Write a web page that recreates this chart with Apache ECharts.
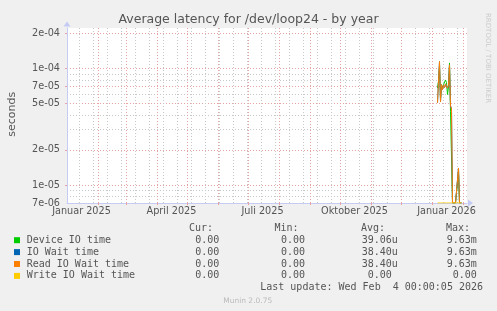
<!DOCTYPE html>
<html><head><meta charset="utf-8">
<script src="https://cdn.jsdelivr.net/npm/echarts@6/dist/echarts.min.js"></script>
<style>html,body{margin:0;padding:0;background:#f0f0f0;}#c{width:497px;height:311px;}</style>
</head><body><div id="c"></div>
<script>
// ---------- data ----------
const dates = ['2026-01-06','2026-01-07','2026-01-08','2026-01-09','2026-01-10','2026-01-11','2026-01-12',
  '2026-01-13','2026-01-14','2026-01-15','2026-01-16','2026-01-17','2026-01-18','2026-01-19','2026-01-20',
  '2026-01-21','2026-01-22','2026-01-23','2026-01-24','2026-01-25','2026-01-26','2026-01-27','2026-01-28',
  '2026-01-29','2026-01-30'];
const deviceIO   = [6.8e-5,7.8e-5,1.05e-4,5.5e-5,7.2e-5,6.8e-5,7.3e-5,7.4e-5,8.0e-5,7.6e-5,6.0e-5,7.0e-5,1.12e-4,4.3e-5,4.4e-5,0,0,0,0,0,0,1.3e-5,0,0,0];
const ioWait     = [5.1e-5,7.8e-5,1.15e-4,5.2e-5,7.3e-5,6.6e-5,7.2e-5,6.9e-5,7.4e-5,7.3e-5,6.8e-5,7.2e-5,1.08e-4,4.8e-5,4.5e-5,0,0,0,0,0,0,1.4e-5,0,0,0];
const readIoWait = [5.1e-5,7.8e-5,1.15e-4,5.2e-5,7.3e-5,6.6e-5,7.2e-5,6.9e-5,7.4e-5,7.3e-5,6.8e-5,7.2e-5,1.08e-4,4.8e-5,4.5e-5,0,0,0,0,0,0,1.4e-5,0,0,0];
const writeIoWait= [0,0,0,0,0,0,0,0,0,0,0,0,0,0,0,0,0,0,0,0,0,0,0,0,0];

const yLabelValues = [7e-6,1e-5,2e-5,5e-5,7e-5,1e-4,2e-4];
const yMajorGrid   = [1e-5,2e-5,5e-5,7e-5,1e-4,2e-4];
const yMinorGrid   = [8e-6,9e-6,3e-5,4e-5,6e-5,8e-5,9e-5];
const xLabelNames  = ['Januar 2025','April 2025','Juli 2025','Oktober 2025','Januar 2026'];
const xLabelDates  = ['2025-01-15','2025-04-15','2025-07-15','2025-10-15','2026-01-15'];

const seriesNames  = ['Device IO time','IO Wait time','Read IO Wait time','Write IO Wait time'];
const seriesColors = ['#00cc00','#0066b3','#ff8000','#ffcc00'];
const curVals = ['0.00','0.00','0.00','0.00'];
const minVals = ['0.00','0.00','0.00','0.00'];
const avgVals = ['39.06u','38.40u','38.40u',' 0.00'];
const maxVals = ['9.63m','9.63m','9.63m',' 0.00'];
const lastUpdate = 'Last update: Wed Feb  4 00:00:05 2026';

// ---------- scales ----------
const DAY = 86400000;
const X_MIN = Date.UTC(2025,0,1);
const X_MAX = X_MIN + 400*DAY;
const Y_MIN_RAW = 7e-6, Y_MAX_RAW = 2.238e-4;
const lg = v => Math.log10(v);
const Y_MIN = lg(Y_MIN_RAW), Y_MAX = lg(Y_MAX_RAW);
const toT = d => Date.parse(d + 'T12:00:00Z');
const toY = v => lg(Math.max(v, Y_MIN_RAW));

const monthStarts = [];
for (let i = 1; i <= 13; i++) monthStarts.push(Date.UTC(2025, i, 1));
const weekLines = [];
for (let t = Date.UTC(2025,0,13); t < X_MAX; t += 14*DAY) weekLines.push(t);
const xLabelTimes = xLabelDates.map(d => Date.parse(d + 'T12:00:00Z'));

const RED = '#e8a2a2', GRAY = '#c8c8c8', AXIS = '#c4cbf4', FONT = '#555555';
const fmtExp = v => {
  const s = Math.pow(10, v).toExponential(0);
  const m = s.match(/^(\d)e([+-])(\d+)$/);
  return m ? m[1] + 'e' + m[2] + (m[3].length < 2 ? '0' + m[3] : m[3]) : s;
};

function mkSeries(i, arr) {
  return {
    name: seriesNames[i], type: 'line', xAxisIndex: 1, yAxisIndex: 1,
    data: dates.map((d, k) => [toT(d), toY(arr[k])]),
    showSymbol: false, symbol: 'none', lineStyle: {width: 1, color: seriesColors[i]},
    itemStyle: {color: seriesColors[i]}, animation: false, clip: true, z: 3 + i
  };
}

// ---------- legend graphic ----------
const mono = "10px 'DejaVu Sans Mono'";
const g = [];
function txt(x, y, text, opt) {
  opt = opt || {};
  g.push({type: 'text', x: x, y: y, rotation: opt.rot || 0, silent: true, z: 10,
    style: {text: text, x: 0, y: 0, font: opt.font || mono, fill: opt.fill || FONT,
      align: opt.align || 'left', verticalAlign: 'middle', textAlign: opt.align || 'left', textVerticalAlign: 'middle'}});
}
const headY = 228.3, rowH = 11.9;
txt(248.5, 19.3, 'Average latency for /dev/loop24 - by year', {font: "12.5px 'DejaVu Sans'", align: 'center'});
txt(11.7, 114.2, 'seconds', {font: "11px 'DejaVu Sans'", align: 'center', rot: Math.PI/2});
txt(487.5, 13, 'RRDTOOL / TOBI OETIKER', {font: "7px 'DejaVu Sans'", fill: '#cccccc', rot: -Math.PI/2});
txt(213, headY, 'Cur:', {align: 'right'});
txt(298.5, headY, 'Min:', {align: 'right'});
txt(385, headY, 'Avg:', {align: 'right'});
txt(470, headY, 'Max:', {align: 'right'});
for (let i = 0; i < 4; i++) {
  const y = headY + rowH * (i + 1);
  g.push({type: 'rect', shape: {x: 14, y: y - 3, width: 6, height: 6}, style: {fill: seriesColors[i]}, silent: true, z: 10});
  txt(26.7, y, seriesNames[i]);
  txt(219.3, y, curVals[i], {align: 'right'});
  txt(305, y, minVals[i], {align: 'right'});
  txt(361.7, y, avgVals[i]);
  txt(446.7, y, maxVals[i]);
}
txt(483, headY + rowH * 5, lastUpdate, {align: 'right'});
txt(247.7, headY + rowH * 6.1, 'Munin 2.0.75', {font: "7.5px 'DejaVu Sans'", fill: '#bbbbbb', align: 'center'});

// ---------- chart ----------
const chart = echarts.init(document.getElementById('c'), null, {renderer: 'canvas'});
chart.setOption({
  backgroundColor: '#f0f0f0',
  animation: false,
  grid: {left: 67, top: 28, width: 400, height: 175, show: true, backgroundColor: '#ffffff', borderWidth: 0},
  xAxis: [
    {type: 'value', min: X_MIN, max: X_MAX, position: 'bottom',
     axisLine: {show: false}, axisLabel: {show: false},
     axisTick: {show: false, customValues: weekLines},
     splitLine: {show: true, lineStyle: {color: GRAY, width: 1, type: [1, 2]}}},
    {type: 'value', min: X_MIN, max: X_MAX, position: 'bottom',
     axisLine: {show: true, onZero: false, lineStyle: {color: AXIS, width: 1},
       symbol: ['none', 'triangle'], symbolSize: [7, 5], symbolOffset: [0, 3.5]},
     axisTick: {show: true, length: 2, inside: false, customValues: monthStarts, lineStyle: {color: RED}},
     axisLabel: {show: true, customValues: xLabelTimes, margin: 3, color: FONT,
       fontFamily: 'DejaVu Sans', fontSize: 9.7,
       formatter: v => { const i = xLabelTimes.indexOf(v); return i >= 0 ? xLabelNames[i] : ''; }},
     splitLine: {show: true, lineStyle: {color: RED, width: 1, type: [1, 2]}}}
  ],
  yAxis: [
    {type: 'value', min: Y_MIN, max: Y_MAX, position: 'left',
     axisLine: {show: false}, axisLabel: {show: false},
     axisTick: {show: false, customValues: yMinorGrid.map(lg)},
     splitLine: {show: true, lineStyle: {color: GRAY, width: 1, type: [1, 2]}}},
    {type: 'value', min: Y_MIN, max: Y_MAX, position: 'left',
     axisLine: {show: true, onZero: false, lineStyle: {color: AXIS, width: 1},
       symbol: ['none', 'triangle'], symbolSize: [7, 5], symbolOffset: [0, 4]},
     axisTick: {show: true, length: 2, customValues: yMajorGrid.map(lg), lineStyle: {color: RED}},
     axisLabel: {show: true, customValues: yLabelValues.map(lg), margin: 7, color: FONT,
       fontFamily: 'DejaVu Sans', fontSize: 9.7, formatter: fmtExp},
     splitLine: {show: true, lineStyle: {color: RED, width: 1, type: [1, 2]}}}
  ],
  series: [
    mkSeries(0, deviceIO), mkSeries(1, ioWait), mkSeries(2, readIoWait), mkSeries(3, writeIoWait)
  ],
  graphic: {elements: g}
});
</script></body></html>
